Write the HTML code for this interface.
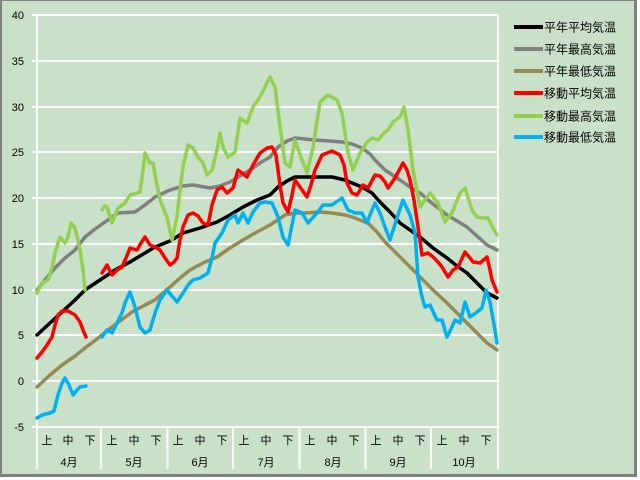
<!DOCTYPE html>
<html><head><meta charset="utf-8"><style>
html,body{margin:0;padding:0;background:#fff;}
body{width:640px;height:480px;overflow:hidden;}
svg{display:block;}
text{font-family:"Liberation Sans","Noto Sans CJK JP",sans-serif;fill:#000;}
</style></head><body>
<svg width="640" height="480" viewBox="0 0 640 480" xmlns="http://www.w3.org/2000/svg">
<rect x="0" y="0" width="640" height="480" fill="#fff"/>
<rect x="0" y="0" width="637" height="477" fill="#808080"/>
<rect x="2" y="1" width="632" height="473" fill="#c9e0c9"/>
<g stroke="#fff" stroke-width="2" fill="none">
<line x1="32" y1="15" x2="498" y2="15"/>
<line x1="32" y1="61" x2="498" y2="61"/>
<line x1="32" y1="107" x2="498" y2="107"/>
<line x1="32" y1="152" x2="498" y2="152"/>
<line x1="32" y1="198" x2="498" y2="198"/>
<line x1="32" y1="244" x2="498" y2="244"/>
<line x1="32" y1="290" x2="498" y2="290"/>
<line x1="32" y1="335" x2="498" y2="335"/>
<line x1="32" y1="381" x2="498" y2="381"/>
<line x1="32" y1="427" x2="498" y2="427"/>
<line x1="37" y1="15" x2="37" y2="469"/>
<line x1="498" y1="15" x2="498" y2="469"/>
<line x1="101" y1="427" x2="101" y2="469"/>
<line x1="167.5" y1="427" x2="167.5" y2="469"/>
<line x1="233" y1="427" x2="233" y2="469"/>
<line x1="299.5" y1="427" x2="299.5" y2="469"/>
<line x1="365.5" y1="427" x2="365.5" y2="469"/>
<line x1="431" y1="427" x2="431" y2="469"/>
</g>
<g font-size="11" text-anchor="end">
<text x="24" y="19">40</text>
<text x="24" y="65">35</text>
<text x="24" y="111">30</text>
<text x="24" y="156">25</text>
<text x="24" y="202">20</text>
<text x="24" y="248">15</text>
<text x="24" y="294">10</text>
<text x="24" y="339">5</text>
<text x="24" y="385">0</text>
<text x="24" y="431">-5</text>
</g>
<g font-size="11" text-anchor="middle">
<text x="47" y="444">上</text><text x="68" y="444">中</text><text x="90" y="444">下</text>
<text x="112" y="444">上</text><text x="134" y="444">中</text><text x="156" y="444">下</text>
<text x="178" y="444">上</text><text x="200" y="444">中</text><text x="222" y="444">下</text>
<text x="244" y="444">上</text><text x="266" y="444">中</text><text x="288" y="444">下</text>
<text x="310" y="444">上</text><text x="332" y="444">中</text><text x="354" y="444">下</text>
<text x="376" y="444">上</text><text x="398" y="444">中</text><text x="420" y="444">下</text>
<text x="442" y="444">上</text><text x="464" y="444">中</text><text x="486" y="444">下</text>
<text x="69" y="466">4月</text>
<text x="134" y="466">5月</text>
<text x="200" y="466">6月</text>
<text x="266" y="466">7月</text>
<text x="333" y="466">8月</text>
<text x="398" y="466">9月</text>
<text x="464" y="466">10月</text>
</g>
<g fill="none" stroke-width="3.5" stroke-linejoin="round" stroke-linecap="round">
<polyline stroke="#808080" points="37,290 45,280 55,268 65,258 75,250 85,237 95,229 105,222 118,213 135,212 145,205 155,197 170,190 183,186 193,185 210,188 220,186 230,182 240,176 250,170 260,163 270,157 278,147 287,141 295,138 305,139 315,140 330,141 342,142 352,144 362,148 370,154 375,160 385,170 400,180 410,187 420,193 433,204 447,215 457,221 467,227 477,236 487,245 497,250"/>
<polyline stroke="#948a54" points="37,387 50,375 62,365 75,356 85,348 97,339 108,330 120,321 132,312 145,305 155,300 170,287 180,278 190,270 203,263 217,257 230,248 243,240 257,232 270,225 285,215 295,213 305,213 320,212 332,213 345,215 352,217 360,220 368,223 377,232 385,242 392,249 400,257 410,267 420,277 433,290 447,303 457,313 467,323 477,333 487,343 497,350"/>
<polyline stroke="#000" points="37,335 50,323 62,312 75,300 85,290 100,280 115,270 130,262 145,253 155,247 170,241 183,233 200,228 217,222 230,215 243,207 257,200 270,195 278,187 287,181 295,177 310,177 332,177 345,180 352,183 362,187 372,193 380,202 390,212 400,223 410,230 420,237 433,248 447,258 457,266 467,273 477,283 487,293 497,298"/>
<polyline stroke="#92d050" points="37,293 42,283 48,280 52,268 55,253 60,237 65,243 68,237 71,223 75,228 78,240 80,250 83,270 85,290"/>
<polyline stroke="#92d050" points="102,210 105,206 107,207 112,223 118,208 125,203 130,195 137,193 140,192 143,170 145,153 150,163 153,163 156,180 160,200 167,217 172,240 177,217 180,190 183,167 188,145 193,148 198,157 203,163 207,175 212,170 217,150 220,133 223,147 228,157 235,152 240,118 247,123 253,107 260,97 265,87 270,77 275,87 280,127 285,163 290,167 295,140 302,160 307,173 313,147 320,102 328,95 337,100 342,113 348,153 353,170 360,153 367,142 372,138 378,140 385,132 388,130 393,122 400,117 404,107 408,130 413,170 420,207 430,193 438,203 445,222 452,213 460,193 465,188 472,210 477,217 483,218 488,218 493,228 497,235"/>
<polyline stroke="#ff0000" points="37,358 42,352 47,345 52,337 55,325 58,315 62,311 68,311 75,315 80,322 83,330 86,337"/>
<polyline stroke="#ff0000" points="102,273 107,265 112,275 117,270 122,267 126,258 130,248 137,250 141,243 145,237 150,245 155,247 160,250 165,258 170,265 174,262 177,258 180,240 183,227 188,215 193,213 198,216 203,223 208,225 212,205 217,190 222,187 227,193 233,188 238,170 242,173 247,177 253,165 260,153 267,148 272,147 276,155 280,185 283,203 288,212 292,195 295,180 300,187 307,197 311,185 315,170 322,155 332,151 340,155 344,165 347,183 352,193 357,195 363,185 368,188 375,175 380,176 385,182 388,188 395,178 403,163 407,170 410,180 414,200 417,220 422,255 428,253 433,257 438,262 442,267 448,277 453,270 458,267 465,252 470,258 473,262 480,263 487,257 490,270 492,280 497,292"/>
<polyline stroke="#00b0f0" points="37,418 42,415 50,413 54,411 58,395 62,383 65,378 69,385 73,395 77,390 80,387 86,386"/>
<polyline stroke="#00b0f0" points="102,337 107,330 112,333 117,323 122,313 125,303 130,292 135,307 140,327 145,333 150,330 155,313 160,300 167,290 172,296 177,302 183,293 188,285 193,280 200,278 208,273 212,258 215,243 222,233 228,220 235,215 238,223 243,213 248,223 253,212 260,203 265,202 272,203 278,217 283,237 288,245 292,225 295,210 302,213 308,223 317,213 323,205 332,205 342,198 348,210 355,213 362,213 367,223 370,215 375,203 380,213 385,227 390,240 397,218 403,200 410,215 415,233 418,277 422,297 425,307 430,305 437,320 442,320 447,337 452,327 455,320 460,323 465,302 470,317 477,312 482,308 486,290 490,302 495,330 497,343"/>
</g>
<g stroke-width="4" fill="none">
<line x1="514" y1="27" x2="543" y2="27" stroke="#000"/>
<line x1="514" y1="49" x2="543" y2="49" stroke="#808080"/>
<line x1="514" y1="71" x2="543" y2="71" stroke="#948a54"/>
<line x1="514" y1="93" x2="543" y2="93" stroke="#ff0000"/>
<line x1="514" y1="116" x2="543" y2="116" stroke="#92d050"/>
<line x1="514" y1="137" x2="543" y2="137" stroke="#00b0f0"/>
</g>
<g font-size="12">
<text x="544" y="31.5">平年平均気温</text>
<text x="544" y="53.5">平年最高気温</text>
<text x="544" y="75.5">平年最低気温</text>
<text x="544" y="97.5">移動平均気温</text>
<text x="544" y="120.5">移動最高気温</text>
<text x="544" y="141.5">移動最低気温</text>
</g>
</svg>
</body></html>
